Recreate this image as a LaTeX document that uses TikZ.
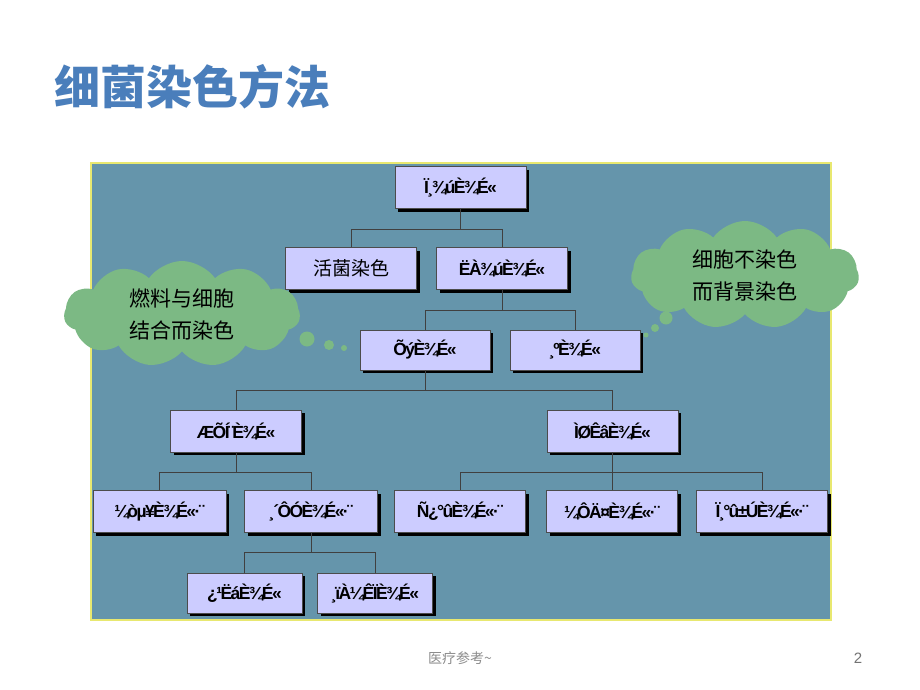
\documentclass[tikz,border=0pt]{standalone}
\usepackage{fontspec}
\setmainfont{Liberation Sans}
\newfontfamily\cjk{Noto Sans CJK SC}
\newfontfamily\moji[LetterSpace=-9]{Liberation Sans}
\usepackage{tikz}
\usetikzlibrary{shadows}
\usetikzlibrary{shapes.symbols}

\definecolor{panelblue}{RGB}{101,149,171}
\definecolor{panelrim}{RGB}{232,232,112}
\definecolor{boxfill}{RGB}{204,204,255}
\definecolor{cloudgreen}{RGB}{124,185,132}
\definecolor{titleblue}{RGB}{74,126,187}

\tikzset{
  stainbox/.style={draw=black!70,fill=boxfill,minimum width=131pt,minimum height=42pt,inner sep=0pt,
    drop shadow={shadow xshift=3pt,shadow yshift=-3pt,fill=black,opacity=1},
    font=\moji\fontsize{17.5}{19}\selectfont\bfseries},
  smallbox/.style={stainbox,minimum width=115pt,minimum height=40pt},
  link/.style={draw=black!75,line width=0.6pt},
  thought/.style={cloud,cloud puffs=11,cloud puff arc=110,aspect=2.2,fill=cloudgreen,inner sep=2pt,
    align=left,font=\cjk\fontsize{21}{32}\selectfont},
  bubble/.style={fill=cloudgreen}
}

\begin{document}
\begin{tikzpicture}[x=1pt,y=-1pt]
\useasboundingbox (0,0) rectangle (920,690);
\fill[white] (0,0) rectangle (920,690);

% title
\node[text=titleblue,font=\cjk\bfseries\fontsize{46}{50}\selectfont] (title) at (192,87) {细菌染色方法};

% panel
\draw[panelrim,line width=1.5pt,fill=panelblue] (91,163) rectangle (831,620);

% boxes
\node[stainbox] (all) at (460.5,187.5) {Ï¸¾úÈ¾É«};
\node[stainbox,font=\cjk\fontsize{19}{21}\selectfont] (live) at (351,268.5) {活菌染色};
\node[stainbox] (dead) at (502,268.5) {ËÀ¾úÈ¾É«};
\node[stainbox,minimum width=130pt,minimum height=40pt] (pos) at (425,350) {ÕýÈ¾É«};
\node[stainbox,minimum width=130pt,minimum height=40pt] (neg) at (575,350) {¸ºÈ¾É«};
\node[stainbox] (plain) at (236,431) {ÆÕÍ¨È¾É«};
\node[stainbox] (special) at (612.5,431) {ÌØÊâÈ¾É«};
\node[stainbox,minimum width=133pt] (simple) at (159.5,511.5) {¼òµ¥È¾É«·¨};
\node[stainbox,minimum width=133pt] (complex) at (311,511.5) {¸´ÔÓÈ¾É«·¨};
\node[stainbox] (spore) at (460,511.5) {Ñ¿°ûÈ¾É«·¨};
\node[stainbox] (capsule) at (612,511.5) {¼ÔÄ¤È¾É«·¨};
\node[stainbox] (wall) at (762,511.5) {Ï¸°û±ÚÈ¾É«·¨};
\node[smallbox] (acid) at (244.5,593) {¿¹ËáÈ¾É«};
\node[smallbox] (gram) at (375,593) {¸ïÀ¼ÊÏÈ¾É«};

% tree
\draw[link] (all.south) -- ++(0,21) -| (live.north);
\draw[link] (all.south) -- ++(0,21) -| (dead.north);
\draw[link] (dead.south) -- ++(0,21) -| (pos.north);
\draw[link] (dead.south) -- ++(0,21) -| (neg.north);
\draw[link] (pos.south) -- ++(0,20) -| (plain.north);
\draw[link] (pos.south) -- ++(0,20) -| (special.north);
\draw[link] (plain.south) -- ++(0,20) -| (simple.north);
\draw[link] (plain.south) -- ++(0,20) -| (complex.north);
\draw[link] (special.south) -- ++(0,20) -| (spore.north);
\draw[link] (special.south) -- ++(0,20) -| (capsule.north);
\draw[link] (special.south) -- ++(0,20) -| (wall.north);
\draw[link] (complex.south) -- ++(0,20) -| (acid.north);
\draw[link] (complex.south) -- ++(0,20) -| (gram.north);

% thought clouds
\node[thought,minimum width=236pt,minimum height=106pt] (posnote) at (182,314) {燃料与细胞\\结合而染色};
\fill[bubble] (307,339) circle (7.5pt);
\fill[bubble] (329,345) circle (5pt);
\fill[bubble] (344,348) circle (3pt);
\node[thought,minimum width=228pt,minimum height=108pt] (negnote) at (745,275) {细胞不染色\\而背景染色};
\fill[bubble] (666,318) circle (6.5pt);
\fill[bubble] (655,328) circle (4pt);
\fill[bubble] (646,335) circle (2.5pt);

% footer
\node[text=black!45,font=\cjk\fontsize{14}{16}\selectfont] (foot) at (460,658) {医疗参考\textasciitilde};
\node[text=black!55,font=\fontsize{15}{17}\selectfont] (page) at (858,658) {2};
\end{tikzpicture}
\end{document}
